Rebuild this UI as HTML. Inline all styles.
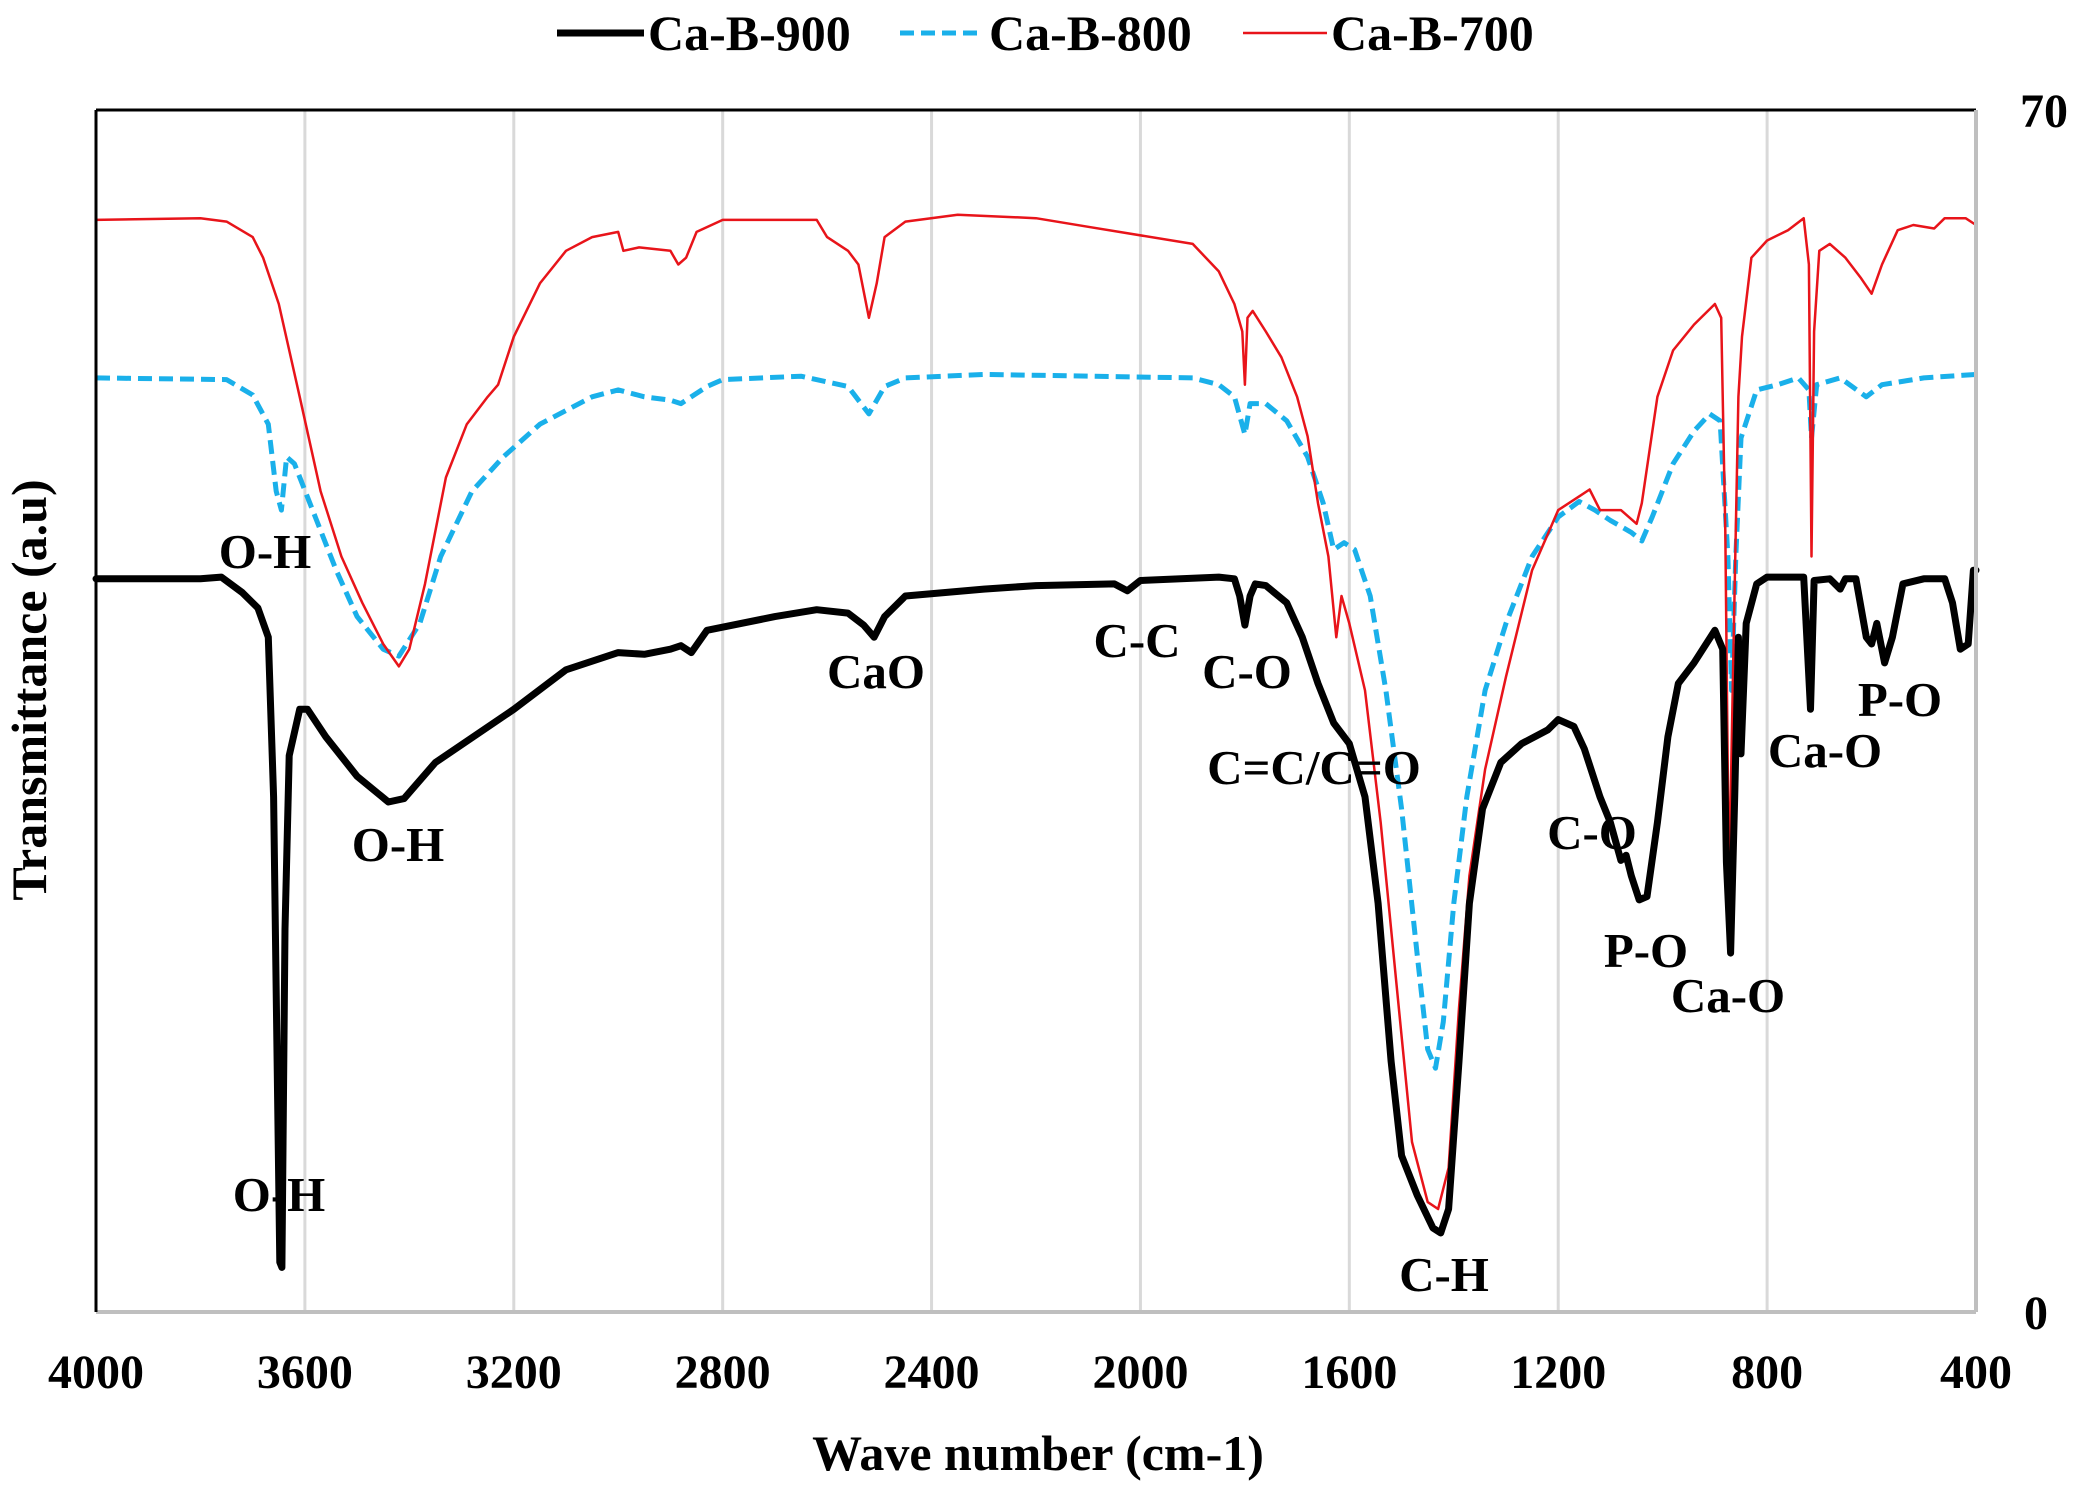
<!DOCTYPE html>
<html><head><meta charset="utf-8"><style>
html,body{margin:0;padding:0;background:#fff;}
svg{display:block;font-family:"Liberation Serif",serif;font-weight:bold;}
</style></head><body>
<svg id="chart" width="2081" height="1490" viewBox="0 0 2081 1490" xmlns="http://www.w3.org/2000/svg">
<rect x="0" y="0" width="2081" height="1490" fill="#fff"/>
<g id="grid"></g>
<g id="series"></g>
<g id="axes"></g>
<g id="labels" font-size="49"></g>
<g font-size="50">
  <line x1="557" y1="33" x2="644" y2="33" stroke="#000" stroke-width="7"/>
  <text x="648" y="50">Ca-B-900</text>
  <line x1="900" y1="33" x2="982" y2="33" stroke="#1ab0ea" stroke-width="5" stroke-dasharray="14,7"/>
  <text x="989" y="50">Ca-B-800</text>
  <line x1="1243" y1="33" x2="1327" y2="33" stroke="#e8141a" stroke-width="2.5"/>
  <text x="1331" y="50">Ca-B-700</text>
</g>
<text x="46" y="690" font-size="50" text-anchor="middle" transform="rotate(-90 46 690)">Transmittance  (a.u)</text>
<text x="1038" y="1470" font-size="50" text-anchor="middle">Wave number  (cm-1)</text>
</svg>
<script>
const xTicks = [4000,3600,3200,2800,2400,2000,1600,1200,800,400];
const yTickLabels = [0,70];
const wn900 = [4000,3800,3760,3720,3690,3670,3660,3648,3644,3638,3630,3610,3595,3560,3500,3440,3410,3350,3200,3100,3000,2950,2900,2880,2860,2830,2700,2620,2560,2530,2510,2490,2450,2300,2200,2050,2025,2000,1850,1820,1810,1800,1790,1780,1760,1720,1690,1660,1630,1600,1570,1545,1520,1500,1470,1440,1425,1410,1390,1370,1345,1310,1270,1220,1200,1170,1150,1120,1100,1080,1070,1060,1045,1030,1010,990,970,940,900,885,878,870,862,855,850,840,820,800,730,717,710,680,660,650,630,610,600,590,575,560,540,500,460,445,430,415,405,400];
const t900 = [42.7,42.7,42.8,41.9,41.0,39.3,30.0,2.9,2.6,22.3,32.4,35.1,35.1,33.5,31.2,29.7,29.9,32.0,35.1,37.4,38.4,38.3,38.6,38.8,38.4,39.7,40.5,40.9,40.7,40.0,39.3,40.5,41.7,42.1,42.3,42.4,42.0,42.6,42.8,42.7,41.7,40.0,41.7,42.4,42.3,41.3,39.3,36.6,34.3,33.1,30.0,23.8,14.6,9.1,6.8,4.9,4.6,6.0,14.6,23.8,29.3,32.0,33.1,33.9,34.5,34.1,32.8,30.0,28.5,26.3,26.6,25.4,24.0,24.2,28.5,33.5,36.6,37.8,39.7,38.6,26.2,20.9,30.0,39.3,32.5,40.1,42.4,42.8,42.8,35.1,42.6,42.7,42.1,42.7,42.7,39.3,38.9,40.1,37.8,39.3,42.4,42.7,42.7,41.3,38.6,38.9,43.2,43.2];
const wn800 = [4000,3750,3700,3670,3655,3645,3635,3620,3580,3540,3500,3450,3420,3380,3340,3280,3220,3150,3050,3000,2950,2900,2880,2830,2800,2650,2560,2520,2490,2450,2300,1900,1850,1820,1800,1790,1760,1720,1680,1650,1630,1610,1590,1560,1530,1500,1470,1450,1435,1420,1400,1375,1340,1300,1250,1200,1160,1130,1100,1060,1040,1020,980,940,910,890,875,868,860,850,820,780,740,720,715,705,660,610,580,500,400];
const t800 = [54.4,54.3,53.4,51.7,47.8,46.7,49.8,49.4,46.3,43.2,40.5,38.6,38.2,40.1,44.0,47.8,49.8,51.7,53.3,53.7,53.3,53.1,52.9,53.9,54.3,54.5,53.9,52.3,53.9,54.4,54.6,54.4,54.0,53.3,51.1,52.9,52.9,51.9,49.8,47.1,44.4,44.8,44.4,41.7,36.2,29.3,20.8,15.3,14.2,16.9,23.8,30.0,36.2,40.1,44.0,46.3,47.2,46.7,46.1,45.4,44.9,46.3,49.4,51.3,52.3,51.9,44.0,36.2,44.0,50.9,53.7,54.0,54.4,53.7,50.9,54.0,54.4,53.3,54.0,54.4,54.6];
const wn700 = [4000,3800,3750,3700,3680,3650,3610,3570,3530,3490,3450,3420,3400,3370,3330,3290,3250,3230,3200,3150,3100,3050,3000,2990,2960,2900,2885,2870,2850,2800,2620,2600,2560,2540,2520,2505,2490,2450,2350,2200,2100,1900,1850,1820,1805,1800,1795,1785,1760,1730,1700,1680,1660,1640,1625,1615,1600,1570,1540,1510,1480,1450,1430,1410,1390,1370,1340,1300,1250,1200,1160,1140,1120,1080,1050,1040,1010,980,940,900,888,880,873,865,855,848,830,800,760,730,720,715,710,700,680,650,620,600,580,550,520,480,460,420,400];
const t700 = [63.6,63.7,63.5,62.6,61.4,58.7,53.3,47.8,44.0,41.3,38.9,37.6,38.6,42.4,48.6,51.7,53.3,54.0,56.8,59.9,61.8,62.6,62.9,61.8,62.0,61.8,61.0,61.4,62.9,63.6,63.6,62.6,61.8,61.0,57.9,59.9,62.6,63.5,63.9,63.7,63.2,62.2,60.6,58.7,57.1,54.0,57.9,58.3,57.1,55.6,53.3,51.0,47.1,44.0,39.3,41.7,40.1,36.2,28.5,19.2,9.9,6.4,6.0,8.4,17.7,25.4,31.6,37.0,43.2,46.7,47.5,47.9,46.7,46.7,45.9,47.1,53.3,56.0,57.5,58.7,57.9,45.5,24.6,37.8,53.3,56.8,61.4,62.4,63.0,63.7,61.0,44.0,57.1,61.8,62.2,61.4,60.2,59.3,61.0,63.0,63.3,63.1,63.7,63.7,63.3];

const L=96,R=1976,T=110,B=1312;
const xs = w => L + (4000 - w) / 3600 * (R - L);
const ys = v => B - v / 70 * (B - T);
const NS='http://www.w3.org/2000/svg';
function mk(tag, attrs, parent){const e=document.createElementNS(NS,tag);for(const k in attrs)e.setAttribute(k,attrs[k]);parent.appendChild(e);return e;}

const grid=document.getElementById('grid');
xTicks.forEach(w=>{
  if(w===4000) return;
  const g=mk('line',{x1:xs(w),x2:xs(w),y1:T,y2:B,stroke:'#d9d9d9','stroke-width':3},grid);
  
  
});

const axes=document.getElementById('axes');
let a=mk('line',{x1:L,x2:R,y1:B,y2:B,stroke:'#bfbfbf','stroke-width':4},axes);


a=mk('line',{x1:L,x2:L,y1:T,y2:B,stroke:'#000','stroke-width':3},axes);


a=mk('line',{x1:L,x2:R,y1:T,y2:T,stroke:'#000','stroke-width':3},axes);


a=mk('line',{x1:R,x2:R,y1:T,y2:B,stroke:'#bfbfbf','stroke-width':4},axes);


xTicks.forEach(w=>{
  const t=mk('text',{x:xs(w),y:1388,'font-size':48,'text-anchor':'middle'},axes);
  t.textContent=w;
  
  
});
yTickLabels.forEach(v=>{
  const t=mk('text',{x:v===70?2020:2024,y:ys(v)+17,'font-size':48,'text-anchor':'start'},axes);
  t.textContent=v;
  
  
});

const sg=document.getElementById('series');
function path(wn,tv){return wn.map((w,i)=>(i?'L':'M')+xs(w).toFixed(1)+' '+ys(tv[i]).toFixed(1)).join(' ');}
let p=mk('path',{d:path(wn800,t800),fill:'none',stroke:'#1ab0ea','stroke-width':5,'stroke-dasharray':'14,7','stroke-linejoin':'round'},sg);


p=mk('path',{d:path(wn700,t700),fill:'none',stroke:'#e8141a','stroke-width':2.5,'stroke-linejoin':'round'},sg);


p=mk('path',{d:path(wn900,t900),fill:'none',stroke:'#000','stroke-width':7,'stroke-linejoin':'round','stroke-linecap':'round'},sg);



const annText=['O-H','O-H','O-H','CaO','C-C','C-O','C=C/C=O','C-H','C-O','P-O','Ca-O','Ca-O','P-O'];
const annPos=[[265,568],[398,861],[279,1211],[876,688],[1137,657],[1247,688],[1314,784],[1444,1291],[1592,849],[1646,967],[1728,1012],[1825,767],[1900,716]];
const lg=document.getElementById('labels');
annText.forEach((s,i)=>{
  const t=mk('text',{x:annPos[i][0],y:annPos[i][1],'text-anchor':'middle'},lg);
  t.textContent=s;
  
  
});
</script>
</body></html>
